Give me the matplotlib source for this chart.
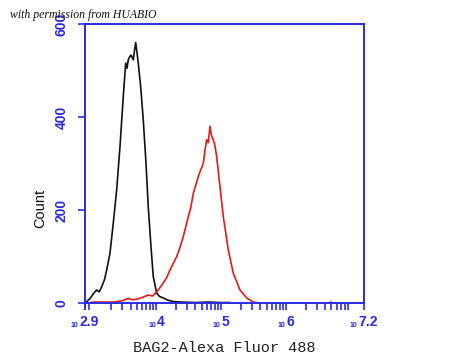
import matplotlib
matplotlib.use("Agg")
import matplotlib.pyplot as plt
import numpy as np

# ---- data (log10 fluorescence, counts) ----
black_log = [2.90, 2.926, 2.98, 3.03, 3.080, 3.12, 3.157, 3.20, 3.234, 3.285, 3.336, 3.388, 3.439, 3.490,
             3.527, 3.547, 3.567, 3.590, 3.609, 3.644, 3.665, 3.681, 3.700, 3.721, 3.758, 3.798, 3.840,
             3.875, 3.917, 3.952, 4.005, 4.05, 4.106, 4.18, 4.261, 4.4, 4.6, 4.8, 5.0, 5.134, 5.15]
black_cnt = [0, 3, 10, 20, 28, 24, 35, 50, 71, 107, 172, 243, 336, 444,
             516, 505, 523, 530, 533, 523, 545, 560, 540, 516, 465, 394, 301,
             207, 121, 57, 21, 14, 11, 6, 3, 2, 1, 2, 1, 1, 0]

red_log = [2.93, 2.946, 3.023, 3.20, 3.331, 3.439, 3.50, 3.567, 3.63, 3.697, 3.78, 3.875, 3.94, 4.005,
           4.05, 4.106, 4.16, 4.210, 4.26, 4.313, 4.36, 4.415, 4.492, 4.53, 4.569, 4.60, 4.646, 4.68,
           4.723, 4.75, 4.775, 4.80, 4.826, 4.85, 4.877, 4.90, 4.929, 4.980, 5.031, 5.07, 5.108, 5.185,
           5.24, 5.288, 5.391, 5.493, 5.596, 6.0, 6.40, 6.66, 6.69, 6.72, 7.0]
red_cnt = [0, 0, 2, 2, 2, 4, 6, 10, 7, 8, 12, 17, 15, 24,
           32, 43, 55, 71, 85, 100, 118, 143, 186, 205, 236, 250, 272, 285,
           300, 330, 351, 345, 380, 360, 351, 340, 315, 250, 186, 150, 114, 64,
           45, 28, 11, 2, 0, 0, 0, 0, 2, 0, 0]

x_ticks_log = [2.9, 4, 5, 6, 7.2]
x_tick_labels = ["2.9", "4", "5", "6", "7.2"]
y_ticks = [0, 200, 400, 600]

BLUE = "#2a2ae6"

fig = plt.figure(figsize=(4.5, 3.61), dpi=100)
ax = fig.add_axes([85/450, 1-303/361, (364-85)/450, (303-24)/361])

ax.plot(10**np.array(black_log), black_cnt, color="#111111", lw=1.2)
ax.plot(10**np.array(red_log), red_cnt, color="#e81818", lw=1.2)

ax.set_xscale("log")
ax.set_xlim(10**2.9, 10**7.2)
ax.set_ylim(0, 600)

for s in ax.spines.values():
    s.set_color(BLUE)
    s.set_linewidth(1.4)

ax.set_xticks([10**v for v in x_ticks_log])
ax.set_xticklabels([""] * len(x_ticks_log))
ax.xaxis.set_minor_locator(matplotlib.ticker.LogLocator(base=10, subs=np.arange(2, 10), numticks=20))
ax.xaxis.set_minor_formatter(matplotlib.ticker.NullFormatter())
ax.tick_params(axis="x", which="both", direction="out", length=5, width=1.2, color=BLUE)

# custom tick labels: small "10" followed by exponent
for v, lab in zip(x_ticks_log, x_tick_labels):
    wexp = 7.7 * sum(1 for c in lab if c.isdigit()) + 3.9 * lab.count(".")
    shift = (8 - wexp) / 2 * 0.72  # px -> points
    ax.annotate(lab, xy=(10**v, 0), xycoords=("data", "axes fraction"),
                xytext=(shift, -14), textcoords="offset points", ha="left", va="center",
                color=BLUE, family="Liberation Sans", fontweight="bold", fontsize=10)
    ax.annotate("10", xy=(10**v, 0), xycoords=("data", "axes fraction"),
                xytext=(shift - 0.5, -16.5), textcoords="offset points", ha="right", va="center",
                color=BLUE, family="Liberation Sans", fontweight="bold", fontsize=5)

ax.set_yticks(y_ticks)
ax.set_yticklabels([str(v) for v in y_ticks], rotation=90, va="center",
                   family="Liberation Sans", fontweight="bold")
ax.tick_params(axis="y", which="both", direction="out", length=5, width=1.2, color=BLUE,
               labelcolor=BLUE, labelsize=10, pad=7)

fig.text(224/450, 1-348/361, "BAG2-Alexa Fluor 488", family="Liberation Mono", fontsize=11,
         ha="center", va="center", color="#222222")
fig.text(40/450, 1-208/361, "Count", family="Liberation Sans", fontsize=10.5, rotation=90,
         ha="center", va="center", color="#111111")
fig.text(10/450, 1-15/361, "with permission from HUABIO", family="Liberation Serif", style="italic",
         fontsize=8.5, ha="left", va="center", color="#111111")

fig.savefig("out.png", dpi=100)
